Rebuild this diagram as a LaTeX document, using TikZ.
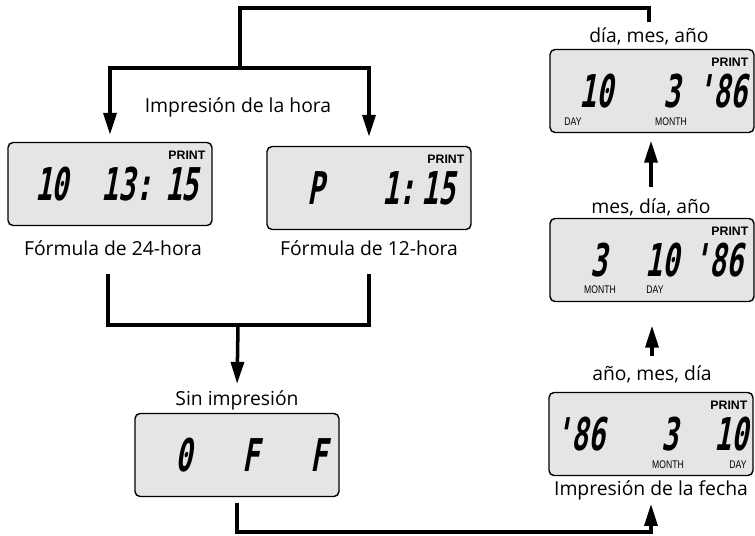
\documentclass[tikz,border=0pt]{standalone}
\usepackage{fontspec}
\setmainfont{Open Sans}
\newfontfamily\lcdfont[FakeStretch=0.62,FakeSlant=0.18]{DejaVu Sans Mono}
\newfontfamily\tagfont{Liberation Sans}
\newfontfamily\capfont[FakeStretch=0.78]{Liberation Sans}
\usetikzlibrary{arrows.meta}

\begin{document}
\begin{tikzpicture}[x=0.02cm, y=-0.02cm,
	lcd/.style={draw, line width=0.8pt, rounded corners=0.1cm, fill=black!10, minimum width=4.08cm, minimum height=1.66cm},
	seg/.style={inner sep=0, font=\lcdfont\bfseries\fontsize{25.7}{26}\selectfont},
	prt/.style={inner sep=0, anchor=north east, font=\tagfont\bfseries\fontsize{7}{7}\selectfont},
	unit/.style={inner sep=0, font=\capfont\fontsize{6.3}{6.3}\selectfont},
	lbl/.style={inner sep=0, anchor=base, font=\fontsize{11}{13}\selectfont},
	line/.style={line width=2pt},
	arr/.style={line width=2pt, -{Triangle[length=0.44cm, width=0.26cm]}}]
	
	\useasboundingbox (0,0) rectangle (755,535);
	
	% displays
	\node[lcd] (h24) at (110,184) {};
	\node[lcd] (h12) at (369,188) {};
	\node[lcd] (dmy) at (652,91) {};
	\node[lcd] (mdy) at (652,260) {};
	\node[lcd] (ymd) at (651,434) {};
	\node[lcd] (off) at (237,455) {};
	
	\node[prt] (p24) at ([shift={(-7,9)}]h24.north east) {PRINT};
	\node[prt] (p12) at ([shift={(-7,9)}]h12.north east) {PRINT};
	\node[prt] (pdmy) at ([shift={(-6,9)}]dmy.north east) {PRINT};
	\node[prt] (pmdy) at ([shift={(-6,9)}]mdy.north east) {PRINT};
	\node[prt] (pymd) at ([shift={(-6,9)}]ymd.north east) {PRINT};
	
	\node[seg] (t24a) at (52,184) {10};
	\node[seg] (t24b) at (127,184) {13:};
	\node[seg] (t24c) at (182,184) {15};
	
	\node[seg] (t12a) at (316,188) {P};
	\node[seg] (t12b) at (399,188) {1:};
	\node[seg] (t12c) at (438,188) {15};
	
	\node[seg] (dmya) at (596,91) {10};
	\node[seg] (dmyb) at (672,91) {3};
	\node[seg] (dmyc) at (722,91) {'86};
	\node[unit] (dmyd) at (573,122) {DAY};
	\node[unit] (dmym) at (671,122) {MONTH};
	
	\node[seg] (mdya) at (599,260) {3};
	\node[seg] (mdyb) at (662,260) {10};
	\node[seg] (mdyc) at (718,260) {'86};
	\node[unit] (mdym) at (600,290) {MONTH};
	\node[unit] (mdyd) at (655,290) {DAY};
	
	\node[seg] (ymda) at (580,434) {'86};
	\node[seg] (ymdb) at (670,434) {3};
	\node[seg] (ymdc) at (731,434) {10};
	\node[unit] (ymdm) at (668,465) {MONTH};
	\node[unit] (ymdd) at (738,465) {DAY};
	
	\node[seg] (offa) at (184,455) {0};
	\node[seg] (offb) at (251,455) {F};
	\node[seg] (offc) at (319,455) {F};
	
	% labels
	\node[lbl] (hora) at (238,112) {Impresión de la hora};
	\node[lbl] (f24) at (113,255) {Fórmula de 24-hora};
	\node[lbl] (f12) at (369,255) {Fórmula de 12-hora};
	\node[lbl] (sin) at (237,405) {Sin impresión};
	\node[lbl] (fecha) at (651,495) {Impresión de la fecha};
	\node[lbl] (dmyl) at (649,42) {día, mes, año};
	\node[lbl] (mdyl) at (651,213) {mes, día, año};
	\node[lbl] (ymdl) at (652,380) {año, mes, día};
	
	% connectors
	\coordinate (back) at (240,8);
	\coordinate (split) at (240,68);
	\coordinate (merge) at (238,325);
	
	\draw[line, shorten <=0.1cm] (dmyl.north) |- (back) -- (split);
	\draw[arr, shorten >=0.14cm] (split) -| (h24.north);
	\draw[arr, shorten >=0.18cm] (split) -| (h12.north);
	
	\draw[line, shorten <=0.36cm, shorten >=0.36cm] ([shift={(-5,0)}]f24.south) |- (merge) -| (f12.south);
	\draw[arr, shorten >=0.12cm] (merge) -- (sin.north);
	
	\draw[arr, shorten <=0.12cm, shorten >=0.08cm] (off.south) -- ++(0,35) -| (fecha.south);
	
	\draw[arr, shorten <=0.18cm, shorten >=0.47cm] (ymdl.north) -- (ymdl.north |- mdy.south);
	\draw[arr, shorten <=0.22cm, shorten >=0.15cm] (mdyl.north) -- (mdyl.north |- dmy.south);
	
\end{tikzpicture}
\end{document}
